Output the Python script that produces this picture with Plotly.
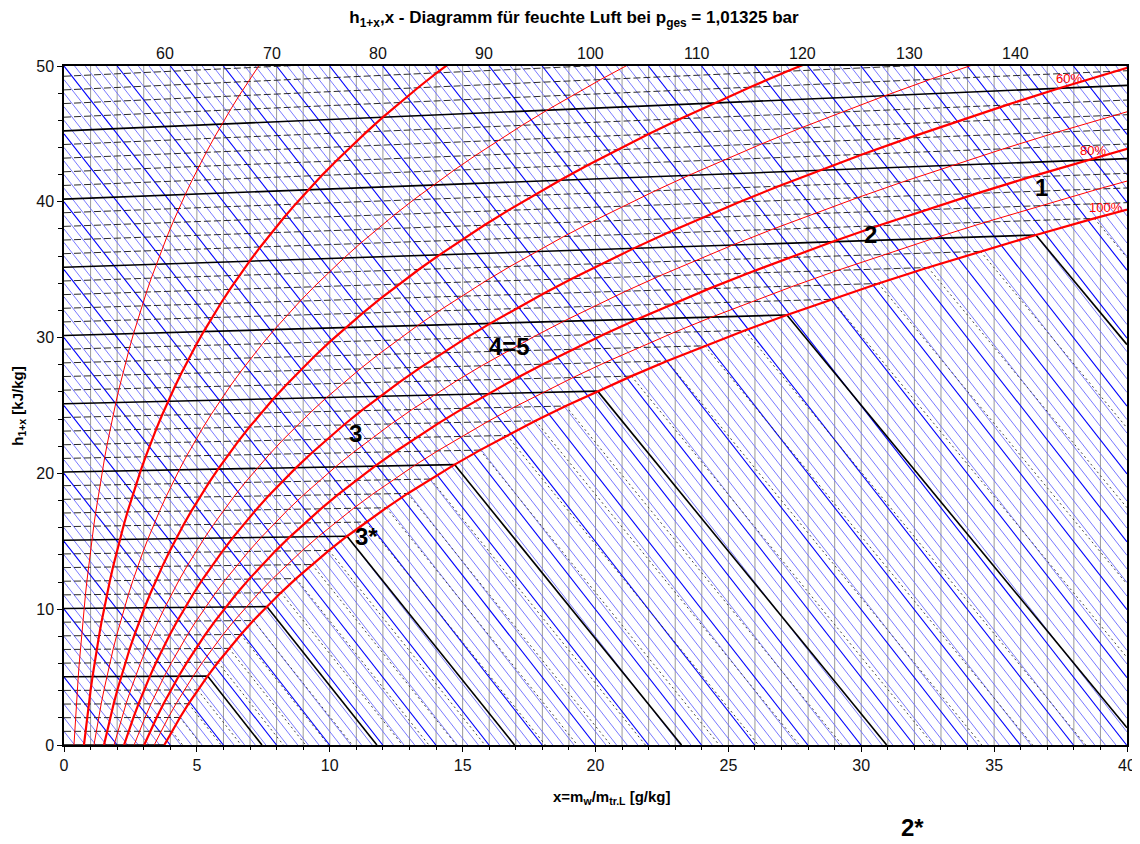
import plotly.graph_objects as go

# ---------------- data ----------------
P_TOT = 101325.0  # total pressure [Pa]

# saturation vapour pressure of water over liquid [Pa] for t = 0..50 degC
TEMPS = list(range(0, 51))
P_SAT = [611.2, 657.1, 706.0, 758.0, 813.5, 872.6, 935.3, 1001.8, 1072.6, 1147.8,
         1227.9, 1312.7, 1402.5, 1497.8, 1598.8, 1705.6, 1818.5, 1938.0, 2064.4, 2197.8,
         2338.8, 2487.7, 2644.7, 2810.4, 2985.0, 3169.0, 3362.9, 3567.0, 3781.8, 4007.8,
         4245.5, 4495.3, 4757.8, 5033.5, 5322.9, 5626.7, 5945.3, 6279.5, 6629.8, 6996.9,
         7381.4, 7784.0, 8205.4, 8646.4, 9107.6, 9589.8, 10094.0, 10620.0, 11171.0, 11745.0,
         12344.0]

RH_LEVELS = [10, 20, 30, 40, 50, 60, 70, 80, 90, 100]          # relative humidity [%]
RH_THICK = [20, 40, 60, 80, 100]
H_LEVELS = list(range(0, 151))                                 # enthalpy lines [kJ/kg]
H_TOP_LABELS = [60, 70, 80, 90, 100, 110, 120, 130, 140]
X_GRID = list(range(1, 40))                                    # vertical grid [g/kg]

RH_LABEL_TEXT = ["60%", "80%", "100%"]
RH_LABEL_X = [37.82, 38.72, 39.2]
RH_LABEL_Y = [49.1, 43.75, 39.6]

POINT_LABELS = ["1", "2", "3", "4=5", "3*"]
POINT_X = [36.77, 30.34, 10.98, 16.77, 11.39]
POINT_Y = [41.09, 37.56, 22.97, 29.38, 15.39]
OUTSIDE_LABEL = "2*"
OUTSIDE_X, OUTSIDE_Y = 0.798, -0.122   # paper coordinates (below the plot)

# physical constants of the h,x-diagram
R0 = 2.501      # evaporation enthalpy [kJ/g]
CPD = 0.00186   # vapour [kJ/(g K)]
CPL = 1.005     # dry air [kJ/(kg K)]
CW = 0.00419    # liquid water [kJ/(g K)]

X_MAX, Y_MAX = 40.0, 50.0


def x_of(phi, ps):
    return 622.0 * phi * ps / (P_TOT - phi * ps)


def y_of(t, x):
    # skewed coordinate h - r0*x
    return CPL * t + CPD * t * x


# ---------------- build line sets ----------------
def seg_append(xs, ys, pts):
    for p in pts:
        xs.append(p[0]); ys.append(p[1])
    xs.append(None); ys.append(None)


vx, vy = [], []
for xv in X_GRID:
    seg_append(vx, vy, [(xv, 0), (xv, Y_MAX)])

hx_thin, hy_thin, hx_thick, hy_thick = [], [], [], []
for h in H_LEVELS:
    x_lo = max(0.0, (h - Y_MAX) / R0)
    x_hi = min(X_MAX, h / R0)
    if x_lo >= x_hi:
        continue
    pts = [(x_lo, h - R0 * x_lo), (x_hi, h - R0 * x_hi)]
    if h % 5 == 0:
        seg_append(hx_thick, hy_thick, pts)
    else:
        seg_append(hx_thin, hy_thin, pts)

ix_d, iy_d, ix_s, iy_s = [], [], [], []
fx_d, fy_d, fx_s, fy_s = [], [], [], []
for t, ps in zip(TEMPS, P_SAT):
    xs_ = x_of(1.0, ps)
    xe = min(xs_, X_MAX)
    pts = [(0.0, y_of(t, 0.0)), (xe, y_of(t, xe))]
    solid = (t % 5 == 0)
    if solid:
        seg_append(ix_s, iy_s, pts)
    else:
        seg_append(ix_d, iy_d, pts)
    # fog isotherm
    if xs_ < X_MAX and t > 0:
        ys_ = y_of(t, xs_)
        m = CW * t - R0
        x_end = xs_ - ys_ / m
        if x_end > X_MAX:
            fpts = [(xs_, ys_), (X_MAX, ys_ + m * (X_MAX - xs_))]
        else:
            fpts = [(xs_, ys_), (x_end, 0.0)]
        if solid:
            seg_append(fx_s, fy_s, fpts)
        else:
            seg_append(fx_d, fy_d, fpts)

fig = go.Figure()


def add(x, y, color, width, dash="solid"):
    fig.add_trace(go.Scatter(x=x, y=y, mode="lines", line=dict(color=color, width=width, dash=dash),
                             hoverinfo="skip", showlegend=False, connectgaps=False))


add(vx, vy, "#9a9a9a", 1)
add(hx_thin, hy_thin, "#6a6aff", 0.9)
add(hx_thick, hy_thick, "#0000ff", 1.1)
add(ix_d, iy_d, "#2a2a2a", 1, "7px,3px")
add(fx_d, fy_d, "#444444", 1, "2px,3px")
add(ix_s, iy_s, "#000000", 1.6)
add(fx_s, fy_s, "#000000", 1.6)

for rh in RH_LEVELS:
    phi = rh / 100.0
    cx = [x_of(phi, ps) for ps in P_SAT]
    cy = [y_of(t, x) for t, x in zip(TEMPS, cx)]
    add(cx, cy, "#ff0000", 2.2 if rh in RH_THICK else 1)

# ---------------- annotations ----------------
FONT = "Liberation Sans, Arial"
ann = []
for h in H_TOP_LABELS:
    ann.append(dict(x=(h - Y_MAX) / R0, y=Y_MAX, xref="x", yref="y", text=str(h), showarrow=False,
                    xshift=-5, yshift=13, yanchor="middle",
                    font=dict(size=16, color="#111", family=FONT)))
for txt, lx, ly in zip(RH_LABEL_TEXT, RH_LABEL_X, RH_LABEL_Y):
    ann.append(dict(x=lx, y=ly, xref="x", yref="y", text=txt, showarrow=False,
                    font=dict(size=13, color="#ff0000", family=FONT)))
for txt, lx, ly in zip(POINT_LABELS, POINT_X, POINT_Y):
    ann.append(dict(x=lx, y=ly, xref="x", yref="y", text="<b>" + txt + "</b>", showarrow=False,
                    font=dict(size=24, color="#000", family=FONT)))
ann.append(dict(x=OUTSIDE_X, y=OUTSIDE_Y, xref="paper", yref="paper", text="<b>" + OUTSIDE_LABEL + "</b>",
                showarrow=False, xanchor="center", yanchor="middle",
                font=dict(size=24, color="#000", family=FONT)))
ann.append(dict(x=0.515, y=-0.078, xref="paper", yref="paper", showarrow=False,
                text="<b>x=m<sub>w</sub>/m<sub>tr.L</sub> [g/kg]</b>", yanchor="middle",
                font=dict(size=15, color="#000", family=FONT)))
ann.append(dict(x=-0.043, y=0.5, xref="paper", yref="paper", showarrow=False, textangle=-90,
                text="<b>h<sub>1+x</sub> [kJ/kg]</b>", xanchor="center", yanchor="middle",
                font=dict(size=15, color="#000", family=FONT)))

FIG_H = 844
fig.update_layout(
    width=1140, height=FIG_H,
    margin=dict(l=56, r=12, t=58, b=FIG_H - 58 - 679),
    paper_bgcolor="white", plot_bgcolor="white",
    title=dict(text="<b>h<sub>1+x</sub>,x - Diagramm für feuchte Luft bei p<sub>ges</sub> = 1,01325 bar</b>",
               x=0.4965, xref="container", xanchor="center", y=1 - 9 / FIG_H, yref="container",
               yanchor="middle", font=dict(size=17, color="#000", family=FONT)),
    annotations=ann,
    showlegend=False,
    hovermode=False,
)
fig.update_xaxes(range=[0, X_MAX], dtick=5, showgrid=False, zeroline=False,
                 showline=True, mirror=True, linecolor="#000", linewidth=1.5,
                 ticks="outside", ticklen=5, tickcolor="#000",
                 minor=dict(dtick=1, ticks="outside", ticklen=3, tickcolor="#000", showgrid=False),
                 tickfont=dict(size=16, color="#111", family=FONT))
fig.update_yaxes(range=[0, Y_MAX], dtick=10, showgrid=False, zeroline=False,
                 showline=True, mirror=True, linecolor="#000", linewidth=1.5,
                 ticks="outside", ticklen=5, tickcolor="#000",
                 minor=dict(dtick=2, ticks="outside", ticklen=4, tickcolor="#000", showgrid=False),
                 tickfont=dict(size=16, color="#111", family=FONT))

fig.write_html("out.html")
